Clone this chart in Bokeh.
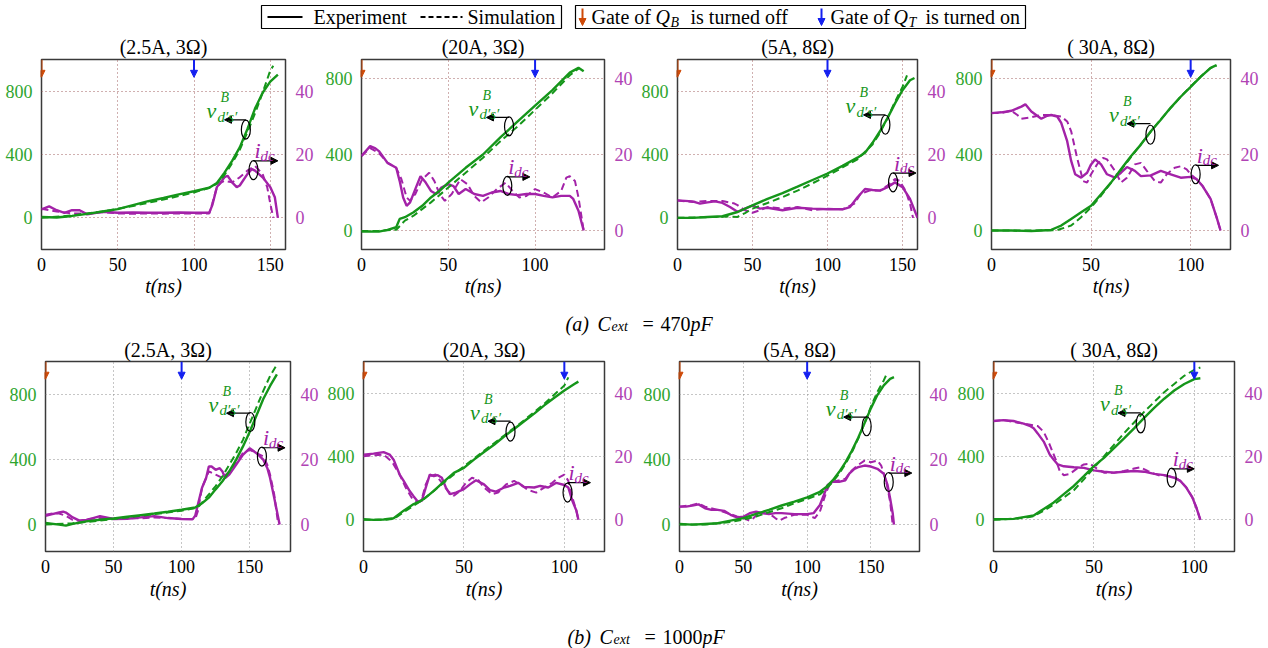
from bokeh.plotting import figure
from bokeh.models import Range1d, LinearAxis, FixedTicker, Label, Arrow, NormalHead
from bokeh.layouts import column, row
from bokeh.embed import file_html
from bokeh.resources import INLINE

FONT = "Liberation Serif"
GREEN = "#15961a"
MAGENTA = "#a322a8"
GREEN_T = "#2ea52e"
MAG_T = "#b043b4"
ORANGE = "#cf4a08"
BLUE = "#1420f0"

# ---------------- data (t in ns, v in V, i in A) ----------------
TITLES = ["(2.5A, 3Ω)", "(20A, 3Ω)", "(5A, 8Ω)", "( 30A, 8Ω)",
          "(2.5A, 3Ω)", "(20A, 3Ω)", "(5A, 8Ω)", "( 30A, 8Ω)"]
X_MAX = [160, 140, 160, 120, 180, 120, 188, 120]
Y_LO = [-200, -100, -200, -100, -165, -200, -165, -200]
Y_HI = [1000, 900, 1000, 900, 1000, 1000, 1000, 1000]
X_TICKS = [[0, 50, 100, 150], [0, 50, 100], [0, 50, 100, 150], [0, 50, 100],
           [0, 50, 100, 150], [0, 50, 100], [0, 50, 100, 150], [0, 50, 100]]
V_TICKS = [0, 400, 800]
I_TICKS = [0, 20, 40]
GATE_QB = 0
GATE_QT = 100
CAP_A = "470"
CAP_B = "1000"

# (a) 2.5A, 3ohm
A1_VE_T = [0, 10, 20, 30, 40, 50, 60, 70, 80, 90, 100, 110, 115, 120, 125, 130, 135, 140, 145, 150, 155]
A1_VE = [5, 2, 12, 25, 40, 55, 80, 105, 125, 148, 168, 190, 220, 285, 360, 445, 560, 690, 790, 860, 905]
A1_VS_T = [0, 20, 40, 60, 80, 100, 110, 115, 120, 125, 130, 135, 140, 145, 150, 152]
A1_VS = [0, 15, 40, 75, 115, 160, 190, 215, 270, 345, 430, 540, 660, 790, 930, 960]
A1_IE_T = [0, 5, 10, 15, 20, 25, 30, 35, 40, 50, 60, 70, 80, 90, 100, 110, 112, 115, 120, 122, 125, 128, 130, 135, 138, 140, 145, 150, 153, 155]
A1_IE = [2.7, 3.6, 2.4, 1.6, 2.4, 2.4, 1.1, 1.5, 1.9, 1.6, 1.7, 1.6, 1.6, 1.7, 1.6, 1.6, 4.0, 9.7, 12.8, 13.3, 11.2, 9.7, 10.2, 13.8, 15.4, 14.9, 12.8, 9.7, 6.5, 0]
A1_IS_T = [0, 10, 20, 30, 40, 50, 60, 70, 80, 90, 100, 110, 112, 115, 118, 120, 125, 130, 135, 140, 145, 148, 150, 152]
A1_IS = [2.9, 2.0, 1.4, 1.3, 1.8, 1.4, 1.3, 1.4, 1.3, 1.4, 1.4, 1.4, 4.5, 9.7, 11.2, 11.7, 11.2, 12.8, 14.9, 16.4, 13.8, 9.7, 4.5, 0]

# (a) 20A, 3ohm
A2_VE_T = [0, 10, 15, 20, 22, 25, 30, 35, 40, 45, 50, 60, 70, 80, 90, 100, 110, 120, 125, 128]
A2_VE = [-5, -6, 3, 17, 61, 70, 96, 130, 174, 209, 252, 330, 400, 490, 574, 657, 739, 831, 856, 838]
A2_VS_T = [0, 10, 20, 25, 30, 40, 50, 60, 70, 80, 90, 100, 110, 120, 125]
A2_VS = [-3, -2, 4, 52, 78, 148, 226, 304, 383, 470, 548, 635, 722, 817, 852]
A2_IE_T = [0, 5, 8, 10, 15, 20, 22, 24, 26, 28, 31, 34, 37, 40, 43, 46, 50, 53, 56, 60, 65, 70, 75, 80, 85, 90, 95, 100, 105, 110, 115, 120, 122, 125, 128]
A2_IE = [19.6, 22.2, 21.6, 20.9, 17.8, 16.5, 13.0, 8.7, 6.5, 7.4, 10.9, 14.3, 12.6, 10.4, 9.6, 11.3, 12.2, 11.7, 9.6, 10.9, 9.6, 9.1, 10.0, 10.4, 9.6, 9.3, 9.6, 9.6, 9.1, 8.7, 9.1, 9.1, 8.3, 5.2, 0]
A2_IS_T = [0, 5, 10, 15, 20, 23, 26, 28, 31, 35, 39, 42, 45, 48, 52, 57, 61, 65, 69, 73, 78, 83, 87, 91, 95, 100, 105, 110, 115, 118, 120, 123, 125, 128]
A2_IS = [19.6, 21.7, 20.4, 17.8, 16.5, 13.5, 8.7, 7.8, 9.6, 13.5, 15.2, 13.0, 9.6, 7.8, 9.6, 13.5, 12.2, 9.1, 7.4, 8.7, 10.9, 12.6, 10.4, 8.7, 9.1, 10.9, 10.0, 8.7, 10.4, 13.9, 14.3, 13.0, 8.7, 0]

# (a) 5A, 8ohm
A3_VE_T = [0, 10, 20, 30, 40, 50, 60, 70, 80, 90, 100, 110, 120, 125, 130, 135, 140, 145, 150, 155, 158]
A3_VE = [0, 0, 5, 10, 37, 79, 120, 156, 197, 239, 280, 328, 380, 411, 474, 547, 630, 723, 806, 869, 883]
A3_VS_T = [0, 20, 35, 40, 45, 50, 60, 70, 80, 90, 100, 110, 120, 130, 135, 140, 145, 150, 153]
A3_VS = [0, 4, 8, 6, 30, 58, 94, 131, 172, 218, 266, 318, 370, 463, 536, 630, 733, 827, 900]
A3_IE_T = [0, 10, 15, 20, 25, 30, 35, 40, 45, 50, 55, 60, 70, 80, 90, 100, 110, 115, 120, 125, 130, 135, 140, 145, 150, 155, 158, 160]
A3_IE = [5.5, 5.2, 4.5, 4.9, 5.2, 4.7, 3.4, 1.9, 2.9, 3.9, 2.9, 3.2, 2.4, 3.2, 2.9, 2.7, 2.7, 3.4, 6.5, 9.1, 8.8, 8.6, 9.7, 11.2, 9.7, 6.0, 2.4, 0]
A3_IS_T = [0, 10, 20, 30, 38, 40, 45, 50, 55, 60, 70, 80, 90, 100, 110, 118, 122, 128, 135, 140, 145, 148, 152, 155, 157]
A3_IS = [5.5, 5.0, 5.3, 5.3, 4.5, 4.0, 2.4, 1.6, 2.4, 3.4, 2.9, 3.4, 2.4, 2.9, 2.7, 4.5, 7.6, 8.6, 8.6, 10.2, 12.3, 11.7, 8.6, 4.5, 0]

# (a) 30A, 8ohm
A4_VE_T = [0, 10, 20, 30, 33, 35, 40, 45, 50, 55, 60, 65, 70, 75, 80, 85, 90, 95, 100, 105, 110, 113]
A4_VE = [0, 0, -3, 3, 17, 26, 61, 96, 130, 191, 252, 322, 391, 452, 522, 583, 647, 704, 756, 809, 856, 870]
A4_VS_T = [0, 20, 33, 35, 40, 45, 50, 55, 60, 65, 70, 75, 80, 85, 90, 95, 100, 105, 110, 113]
A4_VS = [0, 0, 2, 9, 26, 70, 122, 183, 252, 318, 386, 455, 520, 585, 645, 705, 758, 810, 855, 868]
A4_IE_T = [0, 5, 10, 15, 17, 20, 25, 28, 30, 33, 35, 38, 40, 42, 45, 48, 50, 52, 55, 58, 62, 65, 68, 72, 75, 80, 85, 90, 95, 100, 103, 106, 110, 113, 115]
A4_IE = [30.9, 31.1, 31.5, 32.6, 33.2, 31.3, 29.4, 30.2, 30.4, 30.0, 28.3, 23.5, 18.3, 14.8, 13.9, 15.2, 17.4, 18.7, 17.4, 14.8, 13.9, 15.2, 16.7, 15.7, 14.3, 14.5, 15.7, 14.8, 13.9, 14.1, 13.5, 11.7, 8.3, 3.5, 0]
A4_IS_T = [0, 5, 10, 13, 15, 20, 25, 30, 35, 38, 40, 43, 46, 48, 50, 53, 56, 58, 62, 65, 68, 72, 75, 78, 82, 85, 88, 92, 95, 98, 100, 103, 106, 110, 113, 115]
A4_IS = [30.9, 30.9, 31.5, 30.4, 29.4, 29.8, 30.4, 30.4, 30.0, 28.7, 26.1, 19.1, 13.0, 12.6, 14.8, 17.4, 19.1, 18.7, 15.7, 12.6, 13.9, 17.4, 17.8, 15.7, 13.0, 12.6, 14.8, 16.5, 16.9, 16.1, 14.8, 13.5, 11.7, 8.3, 3.5, 0]

# (b) 2.5A, 3ohm
B1_VE_T = [0, 10, 15, 20, 30, 40, 50, 60, 70, 80, 90, 100, 110, 112, 115, 120, 125, 130, 135, 140, 145, 150, 155, 160, 165, 170]
B1_VE = [10, 0, -6, 4, 20, 30, 38, 48, 58, 68, 79, 91, 105, 115, 131, 165, 216, 266, 326, 397, 478, 568, 669, 770, 850, 921]
B1_VS_T = [0, 20, 40, 60, 80, 100, 110, 113, 115, 120, 125, 130, 135, 140, 145, 150, 155, 160, 165, 170]
B1_VS = [0, 8, 24, 44, 64, 85, 101, 115, 135, 185, 236, 296, 367, 437, 518, 619, 719, 820, 911, 981]
B1_IE_T = [0, 5, 10, 13, 15, 20, 25, 30, 35, 40, 50, 60, 70, 80, 90, 100, 108, 110, 112, 115, 118, 120, 122, 125, 128, 130, 132, 135, 140, 145, 150, 155, 160, 163, 165, 168, 172]
B1_IE = [2.7, 3.2, 3.7, 4.0, 3.7, 2.2, 1.2, 1.4, 2.0, 2.6, 1.7, 1.8, 2.2, 2.6, 2.0, 1.7, 1.6, 2.7, 6.2, 11.3, 14.3, 17.8, 17.8, 16.8, 17.3, 16.3, 14.3, 15.3, 18.3, 21.4, 23.4, 21.9, 19.9, 17.3, 14.3, 8.3, 0]
B1_IS_T = [0, 5, 10, 15, 20, 25, 30, 40, 50, 60, 70, 80, 90, 100, 110, 112, 115, 120, 125, 130, 135, 140, 145, 150, 155, 160, 163, 165, 168, 171]
B1_IS = [3.0, 3.4, 3.4, 2.7, 1.4, 1.2, 1.6, 2.0, 1.8, 2.0, 1.9, 2.2, 2.0, 1.7, 1.7, 4.2, 11.3, 16.3, 15.3, 14.3, 16.3, 18.8, 21.9, 22.9, 21.9, 20.9, 18.3, 15.3, 9.3, 0]

# (b) 20A, 3ohm
B2_VE_T = [0, 5, 10, 15, 20, 25, 28, 30, 35, 40, 45, 50, 55, 60, 65, 70, 75, 80, 85, 90, 95, 100, 105, 107]
B2_VE = [4, 0, 2, 10, 58, 100, 116, 131, 183, 241, 297, 328, 380, 428, 474, 526, 574, 623, 671, 723, 771, 817, 858, 873]
B2_VS_T = [0, 10, 15, 20, 25, 30, 40, 50, 60, 70, 80, 90, 100, 102]
B2_VS = [0, 0, 6, 48, 89, 131, 235, 338, 436, 532, 629, 733, 848, 900]
B2_IE_T = [0, 5, 10, 13, 15, 18, 20, 23, 25, 27, 29, 31, 33, 35, 37, 39, 41, 43, 46, 50, 53, 56, 60, 63, 66, 70, 73, 77, 80, 85, 88, 92, 96, 100, 102, 104, 106, 107]
B2_IE = [20.6, 20.9, 21.4, 20.6, 19.0, 14.3, 12.3, 9.1, 7.4, 5.8, 6.0, 10.2, 14.3, 13.8, 14.1, 13.3, 10.2, 8.1, 8.6, 9.7, 11.2, 12.5, 11.2, 9.4, 8.9, 10.2, 10.7, 11.7, 10.4, 10.2, 10.7, 10.2, 11.7, 11.0, 10.2, 6.0, 2.9, 0]
B2_IS_T = [0, 5, 10, 13, 15, 18, 21, 24, 27, 29, 31, 33, 36, 39, 42, 45, 48, 51, 54, 57, 60, 64, 67, 71, 75, 78, 82, 86, 90, 94, 97, 100, 102, 104, 106, 107]
B2_IS = [20.1, 20.4, 20.6, 19.0, 17.5, 14.3, 10.2, 7.0, 5.5, 6.5, 11.2, 13.8, 14.3, 11.7, 9.1, 7.6, 9.1, 11.7, 13.3, 12.7, 10.2, 8.1, 8.6, 11.2, 12.3, 11.2, 9.4, 8.6, 10.2, 11.7, 13.3, 14.3, 12.3, 7.0, 2.9, 0]

# (b) 5A, 8ohm
B3_VE_T = [0, 10, 20, 30, 40, 50, 60, 70, 80, 90, 100, 110, 115, 120, 125, 130, 135, 140, 145, 150, 155, 160, 165, 168]
B3_VE = [4, 0, 4, 8, 24, 40, 66, 90, 117, 141, 167, 201, 231, 271, 322, 382, 452, 533, 623, 714, 794, 854, 894, 904]
B3_VS_T = [0, 20, 40, 50, 60, 70, 80, 90, 100, 110, 115, 120, 125, 130, 135, 140, 145, 150, 155, 160, 163]
B3_VS = [0, 0, 16, 30, 50, 76, 100, 131, 157, 185, 221, 261, 312, 372, 442, 527, 623, 724, 814, 884, 935]
B3_IE_T = [0, 5, 10, 15, 20, 25, 30, 35, 40, 45, 50, 55, 60, 65, 70, 75, 80, 90, 100, 105, 110, 113, 116, 120, 125, 130, 133, 137, 140, 145, 150, 155, 160, 163, 165, 167, 168]
B3_IE = [5.5, 5.5, 5.8, 6.2, 5.0, 4.5, 4.5, 4.2, 3.0, 2.2, 2.4, 3.5, 4.0, 3.5, 3.2, 3.5, 3.5, 3.2, 3.2, 3.5, 6.0, 9.0, 12.1, 13.1, 13.1, 13.6, 15.6, 17.1, 17.6, 18.1, 17.8, 17.1, 15.6, 12.1, 8.0, 3.5, 0]
B3_IS_T = [0, 10, 15, 20, 30, 40, 45, 50, 55, 58, 62, 70, 75, 78, 82, 90, 100, 106, 110, 115, 118, 120, 130, 135, 140, 145, 150, 155, 158, 162, 165, 167]
B3_IS = [5.5, 6.0, 6.5, 5.5, 4.5, 3.2, 2.5, 2.0, 1.2, 2.0, 3.5, 3.5, 2.0, 1.2, 2.0, 3.0, 3.0, 2.0, 4.0, 10.0, 12.6, 13.1, 14.1, 16.6, 18.3, 19.6, 19.1, 19.6, 18.1, 13.1, 7.0, 0]

# (b) 30A, 8ohm
B4_VE_T = [0, 10, 15, 20, 25, 30, 35, 40, 45, 50, 55, 60, 65, 70, 75, 80, 85, 90, 95, 100, 103]
B4_VE = [4, 6, 17, 27, 69, 110, 162, 214, 276, 339, 391, 453, 515, 578, 644, 707, 765, 817, 858, 889, 894]
B4_VS_T = [0, 15, 20, 25, 30, 35, 40, 45, 50, 55, 60, 65, 70, 75, 80, 85, 90, 95, 100, 103]
B4_VS = [0, 12, 23, 58, 96, 141, 187, 256, 328, 401, 474, 547, 615, 682, 744, 806, 858, 910, 948, 962]
B4_IE_T = [0, 5, 10, 15, 18, 20, 22, 25, 28, 30, 32, 35, 40, 45, 50, 55, 60, 65, 70, 75, 80, 85, 90, 93, 96, 99, 101, 103]
B4_IE = [31.2, 31.5, 31.2, 30.4, 29.7, 28.9, 27.3, 24.7, 20.6, 19.0, 17.5, 16.9, 16.6, 16.4, 15.6, 15.2, 14.9, 15.2, 15.4, 15.2, 14.5, 14.1, 13.3, 12.3, 10.2, 7.1, 3.9, 0]
B4_IS_T = [0, 5, 10, 15, 20, 22, 25, 28, 31, 33, 35, 38, 42, 45, 48, 51, 55, 60, 65, 70, 73, 77, 82, 85, 90, 93, 96, 99, 101, 103]
B4_IS = [31.2, 31.5, 30.9, 30.4, 29.8, 29.6, 27.8, 23.7, 19.0, 15.4, 14.1, 14.5, 16.4, 17.5, 17.7, 16.4, 14.9, 14.9, 15.4, 16.2, 16.6, 15.4, 14.1, 14.1, 13.5, 12.3, 10.2, 7.1, 3.9, 0]

SERIES = [
    (A1_VE_T, A1_VE, A1_VS_T, A1_VS, A1_IE_T, A1_IE, A1_IS_T, A1_IS),
    (A2_VE_T, A2_VE, A2_VS_T, A2_VS, A2_IE_T, A2_IE, A2_IS_T, A2_IS),
    (A3_VE_T, A3_VE, A3_VS_T, A3_VS, A3_IE_T, A3_IE, A3_IS_T, A3_IS),
    (A4_VE_T, A4_VE, A4_VS_T, A4_VS, A4_IE_T, A4_IE, A4_IS_T, A4_IS),
    (B1_VE_T, B1_VE, B1_VS_T, B1_VS, B1_IE_T, B1_IE, B1_IS_T, B1_IS),
    (B2_VE_T, B2_VE, B2_VS_T, B2_VS, B2_IE_T, B2_IE, B2_IS_T, B2_IS),
    (B3_VE_T, B3_VE, B3_VS_T, B3_VS, B3_IE_T, B3_IE, B3_IS_T, B3_IS),
    (B4_VE_T, B4_VE, B4_VS_T, B4_VS, B4_IE_T, B4_IE, B4_IS_T, B4_IS),
]

# annotation anchors (data coords): v ellipse x, y, arrow y, arrow end x ; i ellipse x, y, arrow y, arrow end x
ANNOT = [
    ((134, 557, 619, 120), (139, 301, 360, 155)),
    ((85, 548, 595, 72), (84, 235, 282, 97)),
    ((138.6, 588, 650, 124), (143.7, 224, 283, 159)),
    ((79.8, 504, 562, 68), (102.5, 296, 343, 114)),
    ((150.5, 629, 683, 133), (159, 417, 471, 176)),
    ((73.2, 557, 623, 62), (101.6, 172, 235, 113)),
    ((146.6, 603, 659, 128.6), (163.9, 261, 316, 182)),
    ((73.3, 609, 675, 62), (88.7, 266, 322, 100)),
]

ROWS = [
    dict(widths=[322, 316, 314, 316], left=[41, 38, 35, 34], right=[37, 34, 35, 38],
         height=273, top=25, bottom=56, grid="#a06060", title_standoff=3, xlabel_standoff=1),
    dict(widths=[324, 316, 314, 314], left=[45, 36, 35, 36], right=[34, 36, 35, 34],
         height=279, top=22, bottom=64, grid="#8c8c8c", title_standoff=1, xlabel_standoff=2),
]


def lab(p, x, y, text, dx=0, dy=0, size=19, color="black", style="normal", align="left", baseline="middle"):
    p.add_layout(Label(x=x, y=y, x_offset=dx, y_offset=dy, text=text, text_font=FONT,
                       text_font_size=f"{size}px", text_color=color, text_font_style=style,
                       text_align=align, text_baseline=baseline))


def make_panel(k, w, bl, br, h, bt, bb, cfg):
    xmax, ylo, yhi = X_MAX[k], Y_LO[k], Y_HI[k]
    p = figure(width=w, height=h, x_range=Range1d(0, xmax), y_range=Range1d(ylo, yhi),
               output_backend="svg", toolbar_location=None, title=TITLES[k],
               min_border_left=bl, min_border_right=br, min_border_top=bt, min_border_bottom=bb,
               background_fill_color="white", border_fill_color="white")
    p.title.align = "center"
    p.title.text_font = FONT
    p.title.text_font_size = "20px"
    p.title.text_font_style = "normal"
    p.title.text_color = "black"
    p.title.standoff = cfg["title_standoff"]
    p.extra_y_ranges = {"i": Range1d(ylo / 20.0, yhi / 20.0)}
    ra = LinearAxis(y_range_name="i", ticker=FixedTicker(ticks=I_TICKS))
    p.add_layout(ra, "right")
    p.xaxis.ticker = FixedTicker(ticks=X_TICKS[k])
    p.yaxis[0].ticker = FixedTicker(ticks=V_TICKS)
    for ax in p.axis:
        ax.axis_line_color = None
        ax.major_tick_line_color = None
        ax.minor_tick_line_color = None
        ax.major_label_standoff = 3
        ax.major_label_text_font = FONT
        ax.major_label_text_font_size = "18px"
    xa = p.below[0]
    xa.major_label_standoff = 2
    xa.major_label_text_color = "black"
    xa.axis_label = "t(ns)"
    xa.axis_label_text_font = FONT
    xa.axis_label_text_font_size = "20px"
    xa.axis_label_text_font_style = "italic"
    xa.axis_label_text_color = "black"
    xa.axis_label_standoff = cfg["xlabel_standoff"]
    p.yaxis[0].major_label_text_color = GREEN_T
    ra.major_label_text_color = MAG_T
    ra.major_label_standoff = 4
    p.outline_line_color = "#3a3a3a"
    p.outline_line_width = 1.5
    for g in (p.xgrid, p.ygrid):
        g.grid_line_color = cfg["grid"]
        g.grid_line_dash = "1 3"
        g.grid_line_width = 1

    ve_t, ve, vs_t, vs, ie_t, ie, is_t, is_ = SERIES[k]
    p.line(ie_t, ie, color=MAGENTA, line_width=2.4, y_range_name="i")
    p.line(is_t, is_, color=MAGENTA, line_width=2.0, line_dash="7 4", y_range_name="i")
    p.line(ve_t, ve, color=GREEN, line_width=2.4)
    p.line(vs_t, vs, color=GREEN, line_width=2.0, line_dash="7 4")

    # gate markers at the top of the frame
    frame_h = h - bt - bb
    dy = 18 * (yhi - ylo) / frame_h
    for gx, col in ((GATE_QB, ORANGE), (GATE_QT, BLUE)):
        p.add_layout(Arrow(x_start=gx, y_start=yhi, x_end=gx, y_end=yhi - dy, line_color=col, line_width=2,
                           end=NormalHead(size=7, fill_color=col, line_color=col)))

    (vx, vy, vay, vex), (ix, iy, iay, iex) = ANNOT[k]
    p.ellipse(x=[vx, ix], y=[vy, iy], width=9, height=19, width_units="screen", height_units="screen",
              fill_color=None, line_color="black", line_width=1.2)
    p.add_layout(Arrow(x_start=vx, y_start=vay, x_end=vex, y_end=vay, line_color="black", line_width=1.2,
                       end=NormalHead(size=7, fill_color="black", line_color="black")))
    p.add_layout(Arrow(x_start=ix, y_start=iay, x_end=iex, y_end=iay, line_color="black", line_width=1.2,
                       end=NormalHead(size=7, fill_color="black", line_color="black")))
    lab(p, vex, vay, "v", dx=-18, dy=9, size=22, color=GREEN, style="italic", baseline="alphabetic")
    lab(p, vex, vay, "B", dx=-4, dy=22, size=14, color=GREEN, style="italic", baseline="alphabetic")
    lab(p, vex, vay, "d′s′", dx=-7, dy=3, size=15, color=GREEN, style="italic", baseline="alphabetic")
    lab(p, ix, iay, "i", dx=1, dy=10, size=22, color=MAGENTA, style="italic", baseline="alphabetic")
    lab(p, ix, iay, "dc", dx=7, dy=5, size=15, color=MAGENTA, style="italic", baseline="alphabetic")
    return p


def blank(h):
    p = figure(width=1268, height=h, x_range=Range1d(0, 1268), y_range=Range1d(0, h),
               output_backend="svg", toolbar_location=None, title=None, x_axis_type=None, y_axis_type=None,
               min_border=0, min_border_left=0, min_border_right=0, min_border_top=0, min_border_bottom=0,
               outline_line_color=None, background_fill_color="white", border_fill_color="white")
    p.grid.visible = False
    return p


# legend strip (32 px tall)
leg = blank(32)
leg.quad(left=[261, 575], right=[561, 1025], bottom=[4, 4], top=[27, 27], fill_color=None,
         line_color="black", line_width=1.2)
leg.line([267, 302], [15.5, 15.5], color="black", line_width=2)
leg.line([420, 462], [15.5, 15.5], color="black", line_width=2, line_dash="5 3")
lab(leg, 313, 15.5, "Experiment", size=20)
lab(leg, 467, 15.5, "Simulation", size=20)
for ax_, col in ((582, ORANGE), (821, BLUE)):
    leg.add_layout(Arrow(x_start=ax_, y_start=24, x_end=ax_, y_end=7, line_color=col, line_width=2,
                         end=NormalHead(size=7, fill_color=col, line_color=col)))
lab(leg, 591, 15.5, "Gate of", size=20)
lab(leg, 655, 15.5, "Q", size=20, style="italic")
lab(leg, 670, 10, "B", size=14, style="italic")
lab(leg, 690, 15.5, "is turned off", size=20)
lab(leg, 830, 15.5, "Gate of", size=20)
lab(leg, 893, 15.5, "Q", size=20, style="italic")
lab(leg, 908, 10, "T", size=14, style="italic")
lab(leg, 925, 15.5, "is turned on", size=20)


def caption(letter, val, h, base, x0):
    c = blank(h)
    lab(c, x0, base, f"({letter})", size=20, style="italic", baseline="alphabetic")
    lab(c, x0 + 32, base, "C", size=20, style="italic", baseline="alphabetic")
    lab(c, x0 + 46, base - 3, "ext", size=14, style="italic", baseline="alphabetic")
    lab(c, x0 + 77, base, "=", size=20, baseline="alphabetic")
    lab(c, x0 + 95, base, val, size=20, baseline="alphabetic")
    lab(c, x0 + 95 + 10 * len(val), base, "pF", size=20, style="italic", baseline="alphabetic")
    return c


rows = []
for r, cfg in enumerate(ROWS):
    figs = []
    for j in range(4):
        k = r * 4 + j
        figs.append(make_panel(k, cfg["widths"][j], cfg["left"][j], cfg["right"][j],
                               cfg["height"], cfg["top"], cfg["bottom"], cfg))
    rows.append(row(*figs, spacing=0))

layout = column(leg, rows[0], caption("a", CAP_A, 31, 13, 565), rows[1],
                caption("b", CAP_B, 33, 12, 567), spacing=0)

open("out.html", "w").write(file_html(layout, INLINE))
